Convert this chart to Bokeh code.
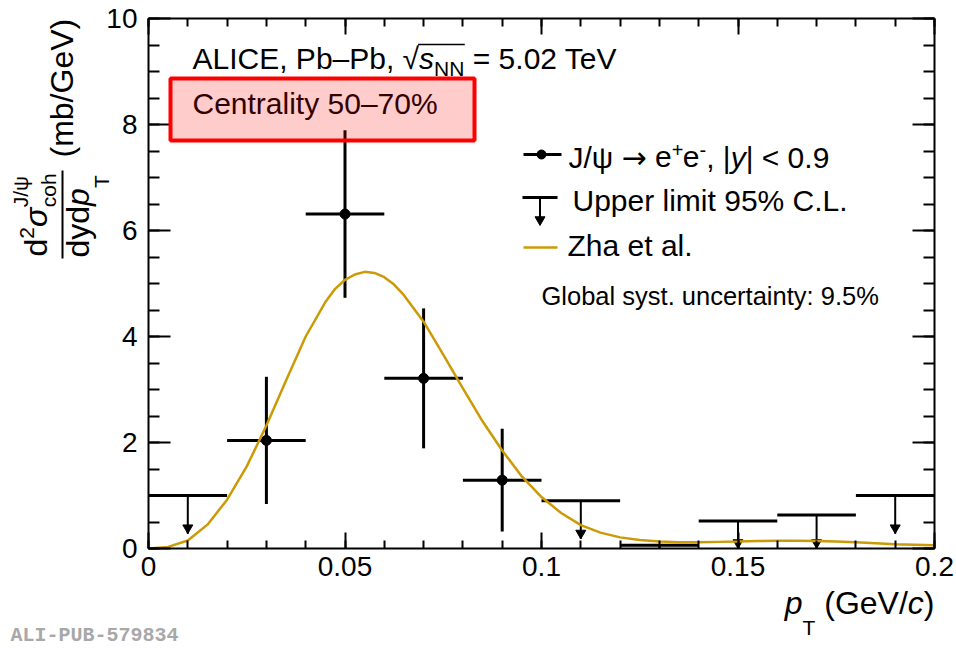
import math
import numpy as np
from bokeh.plotting import figure
from bokeh.models import (ColumnDataSource, FixedTicker, LinearAxis, Label, Arrow,
                          BoxAnnotation, Range1d)
from bokeh.embed import file_html
from bokeh.resources import INLINE

# ---- data -------------------------------------------------------------
# coherent J/psi cross section, measured bins (pT centre, half width, value, stat error)
pt = [0.03, 0.05, 0.07, 0.09]
pt_half = [0.01, 0.01, 0.01, 0.01]
sigma = [2.04, 6.31, 3.21, 1.29]
sigma_err = [1.20, 1.58, 1.32, 0.97]

# 95% C.L. upper limits
ul_pt = [0.01, 0.11, 0.13, 0.15, 0.17, 0.19]
ul_half = [0.01, 0.01, 0.01, 0.01, 0.01, 0.01]
ul_val = [1.00, 0.90, 0.06, 0.52, 0.63, 1.00]

# Zha et al. model curve
zha_pt = [0.000, 0.005, 0.010, 0.015, 0.020, 0.025, 0.030, 0.035, 0.040, 0.045,
          0.0475, 0.050, 0.0525, 0.055, 0.0575, 0.060, 0.0625, 0.065, 0.070, 0.075,
          0.080, 0.085, 0.090, 0.095, 0.100, 0.105, 0.110, 0.115, 0.120, 0.125,
          0.130, 0.135, 0.140, 0.145, 0.150, 0.155, 0.160, 0.165, 0.170, 0.175,
          0.180, 0.185, 0.190, 0.195, 0.200]
zha_val = [0.00, 0.03, 0.15, 0.45, 0.92, 1.55, 2.32, 3.17, 4.00, 4.65,
           4.90, 5.07, 5.17, 5.22, 5.20, 5.12, 4.98, 4.78, 4.28, 3.66,
           3.02, 2.40, 1.85, 1.36, 0.97, 0.67, 0.44, 0.30, 0.21, 0.16,
           0.13, 0.12, 0.12, 0.125, 0.13, 0.14, 0.145, 0.145, 0.14, 0.13,
           0.12, 0.10, 0.08, 0.07, 0.06]

x_ticks = [0, 0.05, 0.1, 0.15, 0.2]
x_tick_labels = ["0", "0.05", "0.1", "0.15", "0.2"]
y_ticks = [0, 2, 4, 6, 8, 10]
y_tick_labels = ["0", "2", "4", "6", "8", "10"]

# ---- layout constants ---------------------------------------------------
W, H = 956, 650
FL, FR, FT, FB = 148, 934, 18, 548          # pixel box of the axes
X0, X1, Y0, Y1 = 0.0, 0.2, 0.0, 10.0
KX = (FR - FL) / (X1 - X0)
KY = (FB - FT) / (Y1 - Y0)
GOLD = "#cc9a06"
FONT = "Liberation Sans"
ARROW_LEN = 0.72      # length of the upper-limit arrows, in y units
HEAD_OFF = 0.11       # centre of the arrow head above its tip
BASE_K = 0.34         # baseline correction for labels, fraction of font size

# the frame spans the whole canvas; the axes sit at fixed data positions
p = figure(width=W, height=H, title=None,
           x_range=Range1d(X0 - FL / KX, X0 + (W - FL) / KX),
           y_range=Range1d(Y0 - (H - FB) / KY, Y0 + FB / KY),
           x_axis_type=None, y_axis_type=None,
           output_backend="svg", toolbar_location=None, min_border=0)
p.background_fill_color = "white"
p.border_fill_color = "white"
p.outline_line_color = None

x_minor = [round(v, 3) for v in np.arange(0.0, 0.2001, 0.01)]
y_minor = [round(v, 2) for v in np.arange(0.0, 10.001, 0.5)]


def make_axis(side, loc, bounds, ticks, minor, major_len, minor_len, labels=None, standoff=0):
    ax = LinearAxis(fixed_location=loc, bounds=bounds)
    ax.ticker = FixedTicker(ticks=ticks, minor_ticks=minor)
    ax.axis_line_color = "black"
    ax.axis_line_width = 2
    ax.major_tick_line_width = 2
    ax.minor_tick_line_width = 2
    ax.major_tick_in = major_len
    ax.major_tick_out = 0
    ax.minor_tick_in = minor_len
    ax.minor_tick_out = 0
    if labels is None:
        ax.major_label_text_font_size = "0px"
        ax.major_label_text_color = None
        ax.major_label_standoff = 0
    else:
        ax.major_label_overrides = labels
        ax.major_label_text_font = FONT
        ax.major_label_text_font_size = "28px"
        ax.major_label_text_color = "black"
        ax.major_label_standoff = standoff
    p.add_layout(ax, side)
    return ax


make_axis("below", Y0, (X0, X1), x_ticks, x_minor, 16, 8, dict(zip(x_ticks, x_tick_labels)), 8)
make_axis("above", Y1, (X0, X1), x_ticks, x_minor, 16, 8)
make_axis("left", X0, (Y0, Y1), y_ticks, y_minor, 22, 11, dict(zip(y_ticks, y_tick_labels)), 11)
make_axis("right", X1, (Y0, Y1), y_ticks, y_minor, 22, 11)


# pixel -> data helpers for decorations
def dx(X):
    return X0 + (X - FL) / KX


def dy(Y):
    return Y0 + (FB - Y) / KY


# ---- text helpers ---------------------------------------------------------
ADV = {" ": .278, "(": .333, ")": .333, "%": .889, ",": .278, "-": .333, ".": .278,
       "/": .278, ":": .278, "<": .584, "=": .584, "|": .26, "–": .556, "→": .838,
       "ψ": .712, "σ": .617, "√": .549,
       "A": .667, "C": .722, "E": .667, "G": .778, "I": .278, "J": .5, "L": .556,
       "N": .722, "P": .667, "T": .611, "U": .722, "V": .667, "Z": .611,
       "c": .5, "f": .278, "i": .222, "j": .222, "k": .5, "l": .222, "m": .833,
       "r": .333, "s": .5, "t": .278, "v": .5, "w": .722, "x": .5, "y": .5, "z": .5}


def text_width(s, size):
    return sum(ADV.get(ch, .556) for ch in s) * size


def label(X, Y, text, size, style="normal", color="black", angle=0.0, font=FONT):
    if angle:
        X -= BASE_K * size
    else:
        Y -= BASE_K * size
    p.add_layout(Label(x=dx(X), y=dy(Y), text=text, text_font=font,
                       text_font_size=f"{size}px", text_font_style=style,
                       text_color=color, angle=angle,
                       text_align="left", text_baseline="alphabetic"))


def rich(X, Y, parts, vertical=False, color="black"):
    """Lay out (text, size, style, raise_px[, font]) pieces one after another."""
    starts = []
    for part in parts:
        text, size, style, rise = part[:4]
        font = part[4] if len(part) > 4 else FONT
        body = text.strip()
        lead = text_width(text[:len(text) - len(text.lstrip())], size)
        if vertical:
            starts.append(Y - lead)
            label(X - rise, Y - lead, body, size, style, color, angle=math.pi / 2, font=font)
            Y -= text_width(text, size)
        else:
            starts.append(X + lead)
            label(X + lead, Y - rise, body, size, style, color, font=font)
            X += text_width(text, size)
    return starts, (Y if vertical else X)


def rule(Xa, Ya, Xb, Yb, width=2, color="black"):
    p.add_layout(Arrow(end=None, x_start=dx(Xa), y_start=dy(Ya), x_end=dx(Xb),
                       y_end=dy(Yb), line_width=width, line_color=color))


# ---- data marks ------------------------------------------------------------
pt_a = np.array(pt)
sig_a = np.array(sigma)
err_a = np.array(sigma_err)
meas = ColumnDataSource(dict(x=pt_a, y=sig_a,
                             xl=pt_a - np.array(pt_half), xh=pt_a + np.array(pt_half),
                             yl=sig_a - err_a, yh=sig_a + err_a))
p.segment("xl", "y", "xh", "y", source=meas, line_color="black", line_width=3)
p.segment("x", "yl", "x", "yh", source=meas, line_color="black", line_width=3)
p.scatter("x", "y", source=meas, size=10, marker="circle", color="black")

ul_x = np.array(ul_pt)
ul_y = np.array(ul_val)
ul_tip = np.maximum(ul_y - ARROW_LEN, Y0)
ul_src = ColumnDataSource(dict(x=ul_x, y=ul_y, xl=ul_x - np.array(ul_half),
                               xh=ul_x + np.array(ul_half), tip=ul_tip))
p.segment("xl", "y", "xh", "y", source=ul_src, line_color="black", line_width=3)
p.segment("x", "y", "x", "tip", source=ul_src, line_color="black", line_width=2)
has_head = ul_y - ul_tip > 0.3
head_src = ColumnDataSource(dict(x=ul_x[has_head], y=ul_tip[has_head] + HEAD_OFF))
p.scatter("x", "y", source=head_src, marker="inverted_triangle", size=10, color="black")

p.line(zha_pt, zha_val, line_color=GOLD, line_width=2.5)

# ---- legend -----------------------------------------------------------------
p.line([dx(523), dx(561)], [dy(154), dy(154)], line_color="black", line_width=3)
p.scatter([dx(541)], [dy(154)], size=9, marker="circle", color="black")
p.line([dx(522), dx(557)], [dy(197), dy(197)], line_color="black", line_width=3)
p.line([dx(539.5), dx(539.5)], [dy(197), dy(220)], line_color="black", line_width=2)
p.scatter([dx(539.5)], [dy(225) + HEAD_OFF], marker="inverted_triangle", size=10, color="black")
p.line([dx(523), dx(557)], [dy(247), dy(247)], line_color=GOLD, line_width=2.5)

rich(568, 167, [("J/ψ ", 30, "normal", 0), ("→", 30, "normal", 0, "DejaVu Sans"),
                (" e", 30, "normal", 0), ("+", 20, "normal", 11),
                ("e", 30, "normal", 0), ("-", 20, "normal", 11),
                (", |", 30, "normal", 0), ("y", 30, "italic", 0),
                ("| < 0.9", 30, "normal", 0)])
label(572, 210, "Upper limit 95% C.L.", 30)
label(567, 255, "Zha et al.", 30)
label(541, 304, "Global syst. uncertainty: 9.5%", 25.5)

# ---- header texts ------------------------------------------------------------
starts, end = rich(192, 68, [("ALICE, Pb–Pb, ", 30, "normal", 0), ("√", 30, "normal", 0),
                             ("s", 30, "italic", 0), ("NN", 21, "normal", -7),
                             (" = 5.02 TeV", 30, "normal", 0)])
rule(starts[2] - 1, 44, starts[4] - 8, 44, width=1.5)

p.add_layout(BoxAnnotation(left=dx(170), right=dx(474), top=dy(78), bottom=dy(140),
                           fill_color="red", fill_alpha=0.2, line_color="red",
                           line_width=4, line_alpha=1.0))
label(192, 113, "Centrality 50–70%", 30, color="#330000")

# ---- axis titles --------------------------------------------------------------
xt_parts = [("p", 32, "italic", 0), ("T", 21, "normal", -21), (" (GeV/", 32, "normal", 0),
            ("c", 32, "italic", 0), (")", 32, "normal", 0)]
xt_w = sum(text_width(t, s) for t, s, _, _ in xt_parts)
rich(FR - xt_w, 613, xt_parts)

label(72, 157, "(mb/GeV)", 32, angle=math.pi / 2)
num_starts, num_end = rich(46, 256, [("d", 32, "normal", 0), ("2", 21, "normal", 12),
                                     ("σ", 32, "italic", 0)], vertical=True)
label(46 - 19, num_end, "J/ψ", 21, angle=math.pi / 2)
label(46 + 9, num_end, "coh", 21, angle=math.pi / 2)
rule(62, 258, 62, 170, width=2)
rich(88, 257, [("dyd", 32, "normal", 0), ("p", 32, "italic", 0), ("T", 21, "normal", -20)],
     vertical=True)

label(10, 642, "ALI-PUB-579834", 20, style="bold", color="#a8a8a8", font="Liberation Mono")

open("out.html", "w").write(file_html(p, INLINE))
